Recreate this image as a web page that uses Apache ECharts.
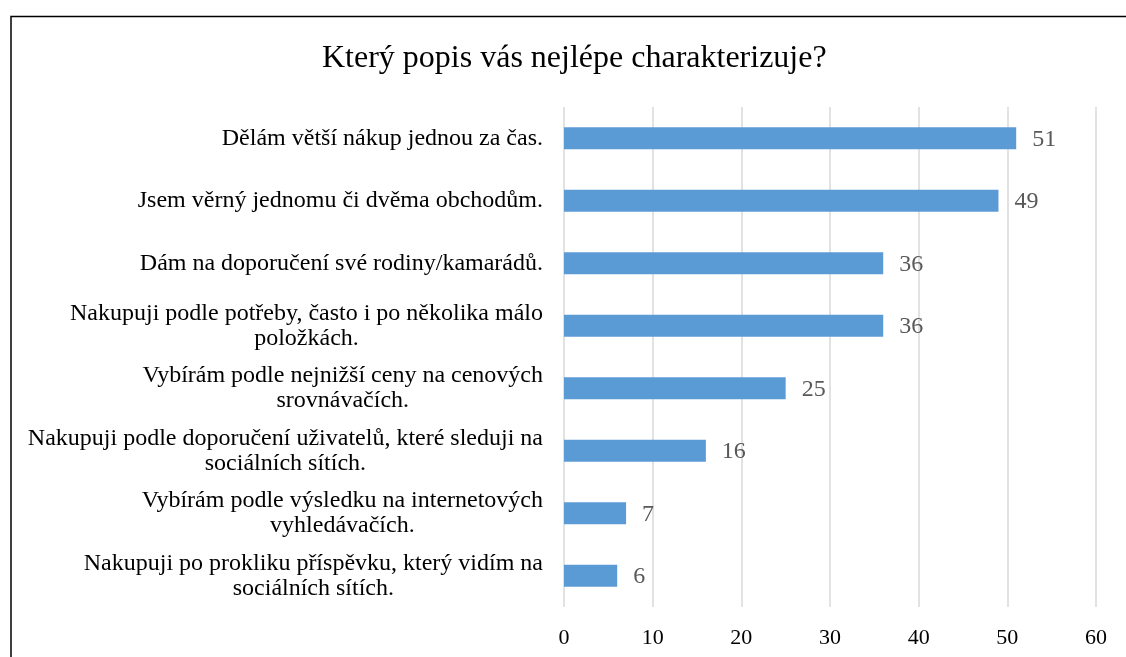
<!DOCTYPE html>
<html>
<head>
<meta charset="utf-8">
<script src="https://cdn.jsdelivr.net/npm/echarts@6/dist/echarts.min.js"></script>
<style>
  html, body { margin: 0; padding: 0; background: #fff; }
  #chart { width: 1126px; height: 657px; }
</style>
</head>
<body>
<div id="chart"></div>
<script>
const titleText = 'Který popis vás nejlépe charakterizuje?';
const categories = [
  'Dělám větší nákup jednou za čas.',
  'Jsem věrný jednomu či dvěma obchodům.',
  'Dám na doporučení své rodiny/kamarádů.',
  'Nakupuji podle potřeby, často i po několika málo\npoložkách.',
  'Vybírám podle nejnižší ceny na cenových\nsrovnávačích.',
  'Nakupuji podle doporučení uživatelů, které sleduji na\nsociálních sítích.',
  'Vybírám podle výsledku na internetových\nvyhledávačích.',
  'Nakupuji po prokliku příspěvku, který vidím na\nsociálních sítích.'
];
const values = [51, 49, 36, 36, 25, 16, 7, 6];
const xTicks = { min: 0, max: 60, interval: 10 };

const serif = '"Liberation Serif", "Times New Roman", serif';
const chart = echarts.init(document.getElementById('chart'));
chart.setOption({
  animation: false,
  backgroundColor: '#ffffff',
  graphic: [{
    type: 'rect',
    shape: { x: 11, y: 16.5, width: 1200, height: 700 },
    style: { fill: 'none', stroke: '#000', lineWidth: 1.5 },
    silent: true
  }],
  title: {
    text: titleText,
    left: 322,
    top: 43,
    padding: 0,
    textStyle: { fontFamily: serif, fontSize: 32, fontWeight: 'normal', color: '#000' }
  },
  grid: { left: 564, right: 30, top: 107, bottom: 50, containLabel: false },
  xAxis: {
    type: 'value',
    min: xTicks.min, max: xTicks.max, interval: xTicks.interval,
    axisLine: { show: false },
    axisTick: { show: false },
    splitLine: { show: true, lineStyle: { color: '#d9d9d9', width: 1.5 } },
    axisLabel: { fontFamily: serif, fontSize: 22, color: '#000', margin: 20 }
  },
  yAxis: {
    type: 'category',
    data: categories,
    inverse: true,
    axisLine: { show: false },
    axisTick: { show: false },
    axisLabel: {
      margin: 21,
      fontFamily: serif,
      fontSize: 24,
      color: '#000',
      lineHeight: 25,
      formatter: function (v) {
        return v.split('\n').map(function (l) { return '{c|' + l + '}'; }).join('\n');
      },
      rich: {
        c: { align: 'center', fontFamily: serif, fontSize: 24, color: '#000', lineHeight: 25 }
      }
    }
  },
  series: [{
    type: 'bar',
    data: values,
    barWidth: 22,
    itemStyle: { color: '#5b9bd5' },
    label: {
      show: true,
      position: 'right',
      distance: 16,
      offset: [0, 1],
      fontFamily: serif,
      fontSize: 24,
      color: '#595959'
    }
  }]
});
</script>
</body>
</html>
